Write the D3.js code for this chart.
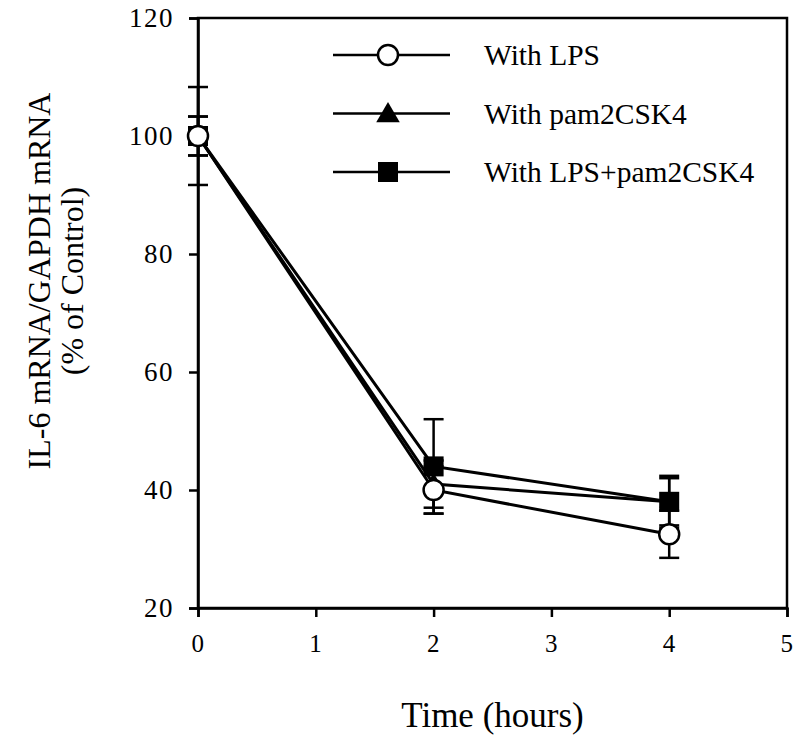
<!DOCTYPE html>
<html><head><meta charset="utf-8">
<script src="https://cdn.jsdelivr.net/npm/d3@7"></script>
<style>body{margin:0;background:#fff}svg{display:block}text{font-family:"Liberation Serif","Times New Roman",serif;fill:#000}</style>
</head><body>
<script>
const times = [0, 2, 4];
const seriesNames = ["With LPS", "With pam2CSK4", "With LPS+pam2CSK4"];
const seriesSymbols = ["circle", "triangle", "square"];
const lpsValues = [100, 40, 32.5];
const lpsErrors = [3.3, 4, 4];
const pamValues = [100, 41, 38];
const pamErrors = [3.3, 4, 4];
const comboValues = [100, 44, 38];
const comboErrors = [8.3, 8, 4.4];
const xTicks = [0, 1, 2, 3, 4, 5];
const yTicks = [20, 40, 60, 80, 100, 120];

const series = [
  {name: seriesNames[0], sym: seriesSymbols[0], v: lpsValues, e: lpsErrors},
  {name: seriesNames[1], sym: seriesSymbols[1], v: pamValues, e: pamErrors},
  {name: seriesNames[2], sym: seriesSymbols[2], v: comboValues, e: comboErrors}
];

const FONT = '"Liberation Serif","Times New Roman",serif';
const W = 800, H = 743;
const m = {l: 198, r: 13, t: 18, b: 135};
const svg = d3.select("body").append("svg").attr("width", W).attr("height", H);
const x = d3.scaleLinear().domain([0, 5]).range([m.l, W - m.r]);
const y = d3.scaleLinear().domain([20, 120]).range([H - m.b, m.t]);

svg.append("rect").attr("x", x(0)).attr("y", y(120)).attr("width", x(5) - x(0)).attr("height", y(20) - y(120))
  .attr("fill", "none").attr("stroke", "#000").attr("stroke-width", 2.5);

const xa = svg.append("g").attr("transform", `translate(0,${y(20)})`)
  .call(d3.axisBottom(x).tickValues(xTicks).tickFormat(d3.format("d")).tickSize(9).tickPadding(17));
const ya = svg.append("g").attr("transform", `translate(${x(0)},0)`)
  .call(d3.axisLeft(y).tickValues(yTicks).tickFormat(d3.format("d")).tickSize(9).tickPadding(15));
[xa, ya].forEach(a => {
  a.attr("font-family", null).attr("font-size", null);
  a.select(".domain").attr("stroke-width", 2.5);
  a.selectAll(".tick line").attr("stroke-width", 2.5);
  a.selectAll("text").style("font-family", FONT).style("letter-spacing", "1.5px");
});
xa.selectAll("text").style("font-size", "25px");
ya.selectAll("text").style("font-size", "27px");

function sym(g, type, cx, cy, legend) {
  if (type === "circle") g.append("circle").attr("cx", cx).attr("cy", cy).attr("r", 10).attr("fill", "#fff").attr("stroke", "#000").attr("stroke-width", 2.5);
  else if (type === "square") g.append("rect").attr("x", cx - 10).attr("y", cy - 10).attr("width", 20).attr("height", 20).attr("fill", "#000");
  else g.append("path").attr("d", d3.symbol(d3.symbolTriangle, legend ? 240 : 170)()).attr("transform", `translate(${cx},${cy + (legend ? 2 : 0)})`).attr("fill", "#000");
}

const line = d3.line().x((d, i) => x(times[i])).y(d => y(d));
const drawOrder = [1, 2, 0];
drawOrder.forEach(k => {
  const s = series[k];
  s.v.forEach((v, i) => {
    const cx = x(times[i]);
    const g = svg.append("g").attr("stroke", "#000").attr("stroke-width", 2.5);
    g.append("line").attr("x1", cx).attr("x2", cx).attr("y1", y(v - s.e[i])).attr("y2", y(v + s.e[i]));
    [v - s.e[i], v + s.e[i]].forEach(t => g.append("line").attr("x1", cx - 10).attr("x2", cx + 10).attr("y1", y(t)).attr("y2", y(t)));
  });
});
drawOrder.forEach(k => {
  svg.append("path").datum(series[k].v).attr("d", line).attr("fill", "none").attr("stroke", "#000").attr("stroke-width", 3);
});
drawOrder.forEach(k => {
  const g = svg.append("g");
  series[k].v.forEach((v, i) => sym(g, series[k].sym, x(times[i]), y(v), false));
});

series.forEach((s, i) => {
  const ly = 55 + i * 58.5;
  svg.append("line").attr("x1", 333).attr("x2", 450).attr("y1", ly).attr("y2", ly).attr("stroke", "#000").attr("stroke-width", 2.5);
  sym(svg, s.sym, 388, ly, true);
  svg.append("text").attr("x", 484).attr("y", ly + 10).style("font-size", "29.5px").style("font-family", FONT).text(s.name);
});

svg.append("text").attr("x", x(2.5)).attr("y", 727).attr("text-anchor", "middle").style("font-size", "35px").style("font-family", FONT).text("Time (hours)");
const yl = svg.append("text").attr("transform", `translate(0,281) rotate(-90)`).attr("text-anchor", "middle").style("font-size", "32px").style("font-family", FONT);
yl.append("tspan").attr("x", 0).attr("y", 50).text("IL-6 mRNA/GAPDH mRNA");
yl.append("tspan").attr("x", 0).attr("y", 83).text("(% of Control)");
</script>
</body></html>
